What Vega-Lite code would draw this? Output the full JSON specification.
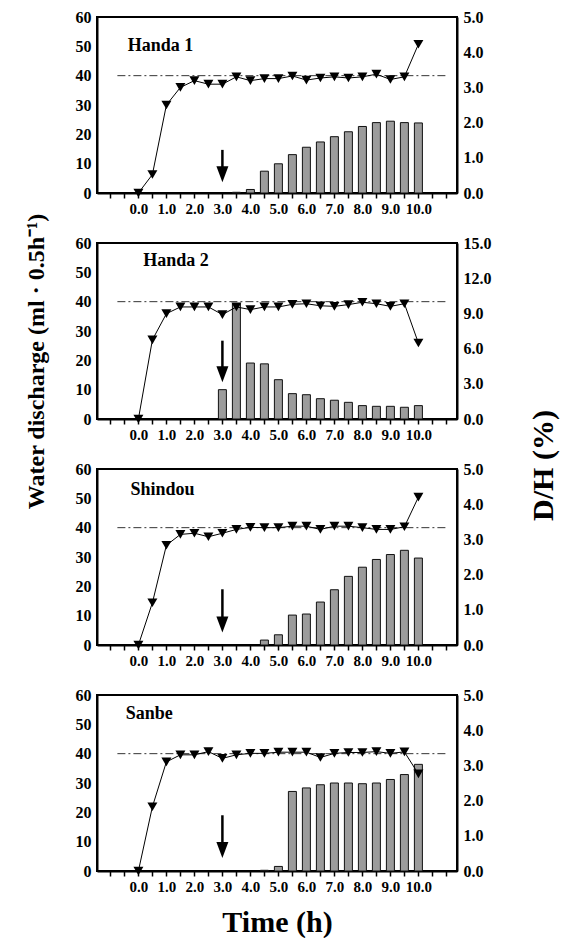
{
  "$schema": "https://vega.github.io/schema/vega-lite/v6.json",
  "padding": {"left": 22, "top": 8, "right": 5, "bottom": 0},
  "background": "white",
  "datasets": {
    "d": [
      {"site": "Handa 1", "t": 0, "q": 0},
      {"site": "Handa 1", "t": 0.5, "q": 6.3},
      {"site": "Handa 1", "t": 1, "q": 30},
      {"site": "Handa 1", "t": 1.5, "q": 36},
      {"site": "Handa 1", "t": 2, "q": 38.3},
      {"site": "Handa 1", "t": 2.5, "q": 37.1},
      {"site": "Handa 1", "t": 3, "q": 37.1},
      {"site": "Handa 1", "t": 3.5, "q": 39.6, "dh": 0.02},
      {"site": "Handa 1", "t": 4, "q": 38.3, "dh": 0.1},
      {"site": "Handa 1", "t": 4.5, "q": 39, "dh": 0.62},
      {"site": "Handa 1", "t": 5, "q": 39, "dh": 0.83},
      {"site": "Handa 1", "t": 5.5, "q": 39.9, "dh": 1.09},
      {"site": "Handa 1", "t": 6, "q": 38.5, "dh": 1.3},
      {"site": "Handa 1", "t": 6.5, "q": 39.2, "dh": 1.45},
      {"site": "Handa 1", "t": 7, "q": 39.6, "dh": 1.6},
      {"site": "Handa 1", "t": 7.5, "q": 39.2, "dh": 1.74},
      {"site": "Handa 1", "t": 8, "q": 39.6, "dh": 1.89},
      {"site": "Handa 1", "t": 8.5, "q": 40.5, "dh": 2.0},
      {"site": "Handa 1", "t": 9, "q": 38.7, "dh": 2.04},
      {"site": "Handa 1", "t": 9.5, "q": 39.6, "dh": 2.0},
      {"site": "Handa 1", "t": 10, "q": 50.7, "dh": 1.99},
      {"site": "Handa 2", "t": 0, "q": 0},
      {"site": "Handa 2", "t": 0.5, "q": 27},
      {"site": "Handa 2", "t": 1, "q": 35.9},
      {"site": "Handa 2", "t": 1.5, "q": 38.2},
      {"site": "Handa 2", "t": 2, "q": 38.2},
      {"site": "Handa 2", "t": 2.5, "q": 38.2},
      {"site": "Handa 2", "t": 3, "q": 35.6, "dh": 2.5},
      {"site": "Handa 2", "t": 3.5, "q": 38.2, "dh": 9.83},
      {"site": "Handa 2", "t": 4, "q": 37.3, "dh": 4.77},
      {"site": "Handa 2", "t": 4.5, "q": 38.2, "dh": 4.7},
      {"site": "Handa 2", "t": 5, "q": 38.2, "dh": 3.35},
      {"site": "Handa 2", "t": 5.5, "q": 39.1, "dh": 2.16},
      {"site": "Handa 2", "t": 6, "q": 39.3, "dh": 2.07},
      {"site": "Handa 2", "t": 6.5, "q": 38.6, "dh": 1.73},
      {"site": "Handa 2", "t": 7, "q": 38.4, "dh": 1.6},
      {"site": "Handa 2", "t": 7.5, "q": 39, "dh": 1.42},
      {"site": "Handa 2", "t": 8, "q": 39.8, "dh": 1.14},
      {"site": "Handa 2", "t": 8.5, "q": 39.3, "dh": 1.08},
      {"site": "Handa 2", "t": 9, "q": 38.4, "dh": 1.08},
      {"site": "Handa 2", "t": 9.5, "q": 39.3, "dh": 1.0},
      {"site": "Handa 2", "t": 10, "q": 25.9, "dh": 1.14},
      {"site": "Shindou", "t": 0, "q": 0},
      {"site": "Shindou", "t": 0.5, "q": 14.4},
      {"site": "Shindou", "t": 1, "q": 34},
      {"site": "Shindou", "t": 1.5, "q": 37.7},
      {"site": "Shindou", "t": 2, "q": 38.1},
      {"site": "Shindou", "t": 2.5, "q": 36.9},
      {"site": "Shindou", "t": 3, "q": 38.1},
      {"site": "Shindou", "t": 3.5, "q": 39.4},
      {"site": "Shindou", "t": 4, "q": 40.1},
      {"site": "Shindou", "t": 4.5, "q": 40, "dh": 0.14},
      {"site": "Shindou", "t": 5, "q": 40, "dh": 0.29},
      {"site": "Shindou", "t": 5.5, "q": 40.5, "dh": 0.85},
      {"site": "Shindou", "t": 6, "q": 40.5, "dh": 0.88},
      {"site": "Shindou", "t": 6.5, "q": 39.4, "dh": 1.22},
      {"site": "Shindou", "t": 7, "q": 40.5, "dh": 1.57},
      {"site": "Shindou", "t": 7.5, "q": 40.5, "dh": 1.95},
      {"site": "Shindou", "t": 8, "q": 40, "dh": 2.21},
      {"site": "Shindou", "t": 8.5, "q": 39.4, "dh": 2.43},
      {"site": "Shindou", "t": 9, "q": 39.4, "dh": 2.57},
      {"site": "Shindou", "t": 9.5, "q": 40.3, "dh": 2.69},
      {"site": "Shindou", "t": 10, "q": 50.4, "dh": 2.47},
      {"site": "Sanbe", "t": 0, "q": 0},
      {"site": "Sanbe", "t": 0.5, "q": 21.9},
      {"site": "Sanbe", "t": 1, "q": 37.2},
      {"site": "Sanbe", "t": 1.5, "q": 39.6},
      {"site": "Sanbe", "t": 2, "q": 39.6},
      {"site": "Sanbe", "t": 2.5, "q": 40.7},
      {"site": "Sanbe", "t": 3, "q": 38.4},
      {"site": "Sanbe", "t": 3.5, "q": 39.6},
      {"site": "Sanbe", "t": 4, "q": 40.1},
      {"site": "Sanbe", "t": 4.5, "q": 40.1, "dh": 0.02},
      {"site": "Sanbe", "t": 5, "q": 40.5, "dh": 0.13},
      {"site": "Sanbe", "t": 5.5, "q": 40.5, "dh": 2.26},
      {"site": "Sanbe", "t": 6, "q": 40.5, "dh": 2.36},
      {"site": "Sanbe", "t": 6.5, "q": 38.7, "dh": 2.45},
      {"site": "Sanbe", "t": 7, "q": 40.1, "dh": 2.5},
      {"site": "Sanbe", "t": 7.5, "q": 40.4, "dh": 2.5},
      {"site": "Sanbe", "t": 8, "q": 40.4, "dh": 2.48},
      {"site": "Sanbe", "t": 8.5, "q": 40.7, "dh": 2.5},
      {"site": "Sanbe", "t": 9, "q": 40.1, "dh": 2.6},
      {"site": "Sanbe", "t": 9.5, "q": 40.6, "dh": 2.74},
      {"site": "Sanbe", "t": 10, "q": 33.1, "dh": 3.03}
    ]
  },
  "data": {"name": "d"},
  "bounds": "flush",
  "spacing": 50,
  "vconcat": [
    {
      "width": 360, "height": 176,
      "layer": [
        {"transform": [{"filter": "datum.site === 'Handa 1' && isValid(datum.dh)"}],
         "mark": {"type": "bar", "width": 8, "fill": "#9c9c9c", "stroke": "#111", "strokeWidth": 1},
         "encoding": {
           "x": {"field": "t", "type": "quantitative", "scale": {"domain": [-1.3, 11.2], "nice": false, "zero": false}, "axis": {"values": [-1,-0.5,0,0.5,1,1.5,2,2.5,3,3.5,4,4.5,5,5.5,6,6.5,7,7.5,8,8.5,9,9.5,10,10.5,11], "labelExpr": "datum.value >= 0 && datum.value <= 10 && datum.value % 1 === 0 ? format(datum.value, '.1f') : ''", "title": null, "labelOverlap": false, "labelFlush": false}},
           "y": {"field": "dh", "type": "quantitative", "scale": {"domain": [0, 5], "nice": false}, "axis": {"orient": "right", "values": [0,1,2,3,4,5], "format": ".1f", "title": null}}}},
        {"layer": [
          {"data": {"values": [{}]}, "mark": {"type": "rule", "strokeDash": [8, 3, 2, 3], "strokeWidth": 1, "color": "#333"},
           "encoding": {
             "x": {"datum": -0.75, "type": "quantitative", "scale": {"domain": [-1.3, 11.2], "nice": false, "zero": false}, "axis": {"values": [-1,-0.5,0,0.5,1,1.5,2,2.5,3,3.5,4,4.5,5,5.5,6,6.5,7,7.5,8,8.5,9,9.5,10,10.5,11], "labelExpr": "datum.value >= 0 && datum.value <= 10 && datum.value % 1 === 0 ? format(datum.value, '.1f') : ''", "title": null, "labelOverlap": false, "labelFlush": false}},
             "x2": {"datum": 11},
             "y": {"datum": 40, "type": "quantitative", "scale": {"domain": [0, 60], "nice": false}, "axis": {"orient": "left", "values": [0,10,20,30,40,50,60], "format": "d", "title": null}}}},
          {"transform": [{"filter": "datum.site === 'Handa 1'"}], "mark": {"type": "line", "color": "black", "strokeWidth": 1},
           "encoding": {
             "x": {"field": "t", "type": "quantitative", "scale": {"domain": [-1.3, 11.2], "nice": false, "zero": false}, "axis": {"values": [-1,-0.5,0,0.5,1,1.5,2,2.5,3,3.5,4,4.5,5,5.5,6,6.5,7,7.5,8,8.5,9,9.5,10,10.5,11], "labelExpr": "datum.value >= 0 && datum.value <= 10 && datum.value % 1 === 0 ? format(datum.value, '.1f') : ''", "title": null, "labelOverlap": false, "labelFlush": false}},
             "y": {"field": "q", "type": "quantitative", "scale": {"domain": [0, 60], "nice": false}, "axis": {"orient": "left", "values": [0,10,20,30,40,50,60], "format": "d", "title": null}}}},
          {"transform": [{"filter": "datum.site === 'Handa 1'"}], "mark": {"type": "point", "shape": "triangle-down", "filled": true, "color": "black", "size": 100, "opacity": 1},
           "encoding": {
             "x": {"field": "t", "type": "quantitative", "scale": {"domain": [-1.3, 11.2], "nice": false, "zero": false}, "axis": {"values": [-1,-0.5,0,0.5,1,1.5,2,2.5,3,3.5,4,4.5,5,5.5,6,6.5,7,7.5,8,8.5,9,9.5,10,10.5,11], "labelExpr": "datum.value >= 0 && datum.value <= 10 && datum.value % 1 === 0 ? format(datum.value, '.1f') : ''", "title": null, "labelOverlap": false, "labelFlush": false}},
             "y": {"field": "q", "type": "quantitative", "scale": {"domain": [0, 60], "nice": false}, "axis": {"orient": "left", "values": [0,10,20,30,40,50,60], "format": "d", "title": null}}}},
          {"data": {"values": [{}]}, "mark": {"type": "rule", "color": "black", "strokeWidth": 2.5},
           "encoding": {
             "x": {"datum": 3, "type": "quantitative", "scale": {"domain": [-1.3, 11.2], "nice": false, "zero": false}, "axis": {"values": [-1,-0.5,0,0.5,1,1.5,2,2.5,3,3.5,4,4.5,5,5.5,6,6.5,7,7.5,8,8.5,9,9.5,10,10.5,11], "labelExpr": "datum.value >= 0 && datum.value <= 10 && datum.value % 1 === 0 ? format(datum.value, '.1f') : ''", "title": null, "labelOverlap": false, "labelFlush": false}},
             "y": {"datum": 14.7, "type": "quantitative", "scale": {"domain": [0, 60], "nice": false}, "axis": {"orient": "left", "values": [0,10,20,30,40,50,60], "format": "d", "title": null}},
             "y2": {"datum": 7}}},
          {"data": {"values": [{}]}, "mark": {"type": "point", "shape": "M-0.75,-2L0.75,-2L0,0Z", "filled": true, "color": "black", "size": 256, "opacity": 1},
           "encoding": {
             "x": {"datum": 3, "type": "quantitative", "scale": {"domain": [-1.3, 11.2], "nice": false, "zero": false}, "axis": {"values": [-1,-0.5,0,0.5,1,1.5,2,2.5,3,3.5,4,4.5,5,5.5,6,6.5,7,7.5,8,8.5,9,9.5,10,10.5,11], "labelExpr": "datum.value >= 0 && datum.value <= 10 && datum.value % 1 === 0 ? format(datum.value, '.1f') : ''", "title": null, "labelOverlap": false, "labelFlush": false}},
             "y": {"datum": 3.7, "type": "quantitative", "scale": {"domain": [0, 60], "nice": false}, "axis": {"orient": "left", "values": [0,10,20,30,40,50,60], "format": "d", "title": null}}}},
          {"data": {"values": [{}]}, "mark": {"type": "text", "text": "Handa 1", "align": "left", "baseline": "alphabetic", "font": "Liberation Serif", "fontWeight": "bold", "fontSize": 18, "color": "black"},
           "encoding": {
             "x": {"datum": -0.38, "type": "quantitative", "scale": {"domain": [-1.3, 11.2], "nice": false, "zero": false}, "axis": {"values": [-1,-0.5,0,0.5,1,1.5,2,2.5,3,3.5,4,4.5,5,5.5,6,6.5,7,7.5,8,8.5,9,9.5,10,10.5,11], "labelExpr": "datum.value >= 0 && datum.value <= 10 && datum.value % 1 === 0 ? format(datum.value, '.1f') : ''", "title": null, "labelOverlap": false, "labelFlush": false}},
             "y": {"datum": 48.4, "type": "quantitative", "scale": {"domain": [0, 60], "nice": false}, "axis": {"orient": "left", "values": [0,10,20,30,40,50,60], "format": "d", "title": null}}}}
        ]}
      ],
      "resolve": {"scale": {"y": "independent"}}
    },
    {
      "width": 360, "height": 176,
      "layer": [
        {"transform": [{"filter": "datum.site === 'Handa 2' && isValid(datum.dh)"}],
         "mark": {"type": "bar", "width": 8, "fill": "#9c9c9c", "stroke": "#111", "strokeWidth": 1},
         "encoding": {
           "x": {"field": "t", "type": "quantitative", "scale": {"domain": [-1.3, 11.2], "nice": false, "zero": false}, "axis": {"values": [-1,-0.5,0,0.5,1,1.5,2,2.5,3,3.5,4,4.5,5,5.5,6,6.5,7,7.5,8,8.5,9,9.5,10,10.5,11], "labelExpr": "datum.value >= 0 && datum.value <= 10 && datum.value % 1 === 0 ? format(datum.value, '.1f') : ''", "title": null, "labelOverlap": false, "labelFlush": false}},
           "y": {"field": "dh", "type": "quantitative", "scale": {"domain": [0, 15], "nice": false}, "axis": {"orient": "right", "values": [0,3,6,9,12,15], "format": ".1f", "title": null}}}},
        {"layer": [
          {"data": {"values": [{}]}, "mark": {"type": "rule", "strokeDash": [8, 3, 2, 3], "strokeWidth": 1, "color": "#333"},
           "encoding": {
             "x": {"datum": -0.75, "type": "quantitative", "scale": {"domain": [-1.3, 11.2], "nice": false, "zero": false}, "axis": {"values": [-1,-0.5,0,0.5,1,1.5,2,2.5,3,3.5,4,4.5,5,5.5,6,6.5,7,7.5,8,8.5,9,9.5,10,10.5,11], "labelExpr": "datum.value >= 0 && datum.value <= 10 && datum.value % 1 === 0 ? format(datum.value, '.1f') : ''", "title": null, "labelOverlap": false, "labelFlush": false}},
             "x2": {"datum": 11},
             "y": {"datum": 40, "type": "quantitative", "scale": {"domain": [0, 60], "nice": false}, "axis": {"orient": "left", "values": [0,10,20,30,40,50,60], "format": "d", "title": "Water discharge     (ml   ·   0.5h⁻¹)", "titleFontSize": 24, "titlePadding": 27, "titleY": 118}}}},
          {"transform": [{"filter": "datum.site === 'Handa 2'"}], "mark": {"type": "line", "color": "black", "strokeWidth": 1},
           "encoding": {
             "x": {"field": "t", "type": "quantitative", "scale": {"domain": [-1.3, 11.2], "nice": false, "zero": false}, "axis": {"values": [-1,-0.5,0,0.5,1,1.5,2,2.5,3,3.5,4,4.5,5,5.5,6,6.5,7,7.5,8,8.5,9,9.5,10,10.5,11], "labelExpr": "datum.value >= 0 && datum.value <= 10 && datum.value % 1 === 0 ? format(datum.value, '.1f') : ''", "title": null, "labelOverlap": false, "labelFlush": false}},
             "y": {"field": "q", "type": "quantitative", "scale": {"domain": [0, 60], "nice": false}, "axis": {"orient": "left", "values": [0,10,20,30,40,50,60], "format": "d", "title": "Water discharge     (ml   ·   0.5h⁻¹)", "titleFontSize": 24, "titlePadding": 27, "titleY": 118}}}},
          {"transform": [{"filter": "datum.site === 'Handa 2'"}], "mark": {"type": "point", "shape": "triangle-down", "filled": true, "color": "black", "size": 100, "opacity": 1},
           "encoding": {
             "x": {"field": "t", "type": "quantitative", "scale": {"domain": [-1.3, 11.2], "nice": false, "zero": false}, "axis": {"values": [-1,-0.5,0,0.5,1,1.5,2,2.5,3,3.5,4,4.5,5,5.5,6,6.5,7,7.5,8,8.5,9,9.5,10,10.5,11], "labelExpr": "datum.value >= 0 && datum.value <= 10 && datum.value % 1 === 0 ? format(datum.value, '.1f') : ''", "title": null, "labelOverlap": false, "labelFlush": false}},
             "y": {"field": "q", "type": "quantitative", "scale": {"domain": [0, 60], "nice": false}, "axis": {"orient": "left", "values": [0,10,20,30,40,50,60], "format": "d", "title": "Water discharge     (ml   ·   0.5h⁻¹)", "titleFontSize": 24, "titlePadding": 27, "titleY": 118}}}},
          {"data": {"values": [{}]}, "mark": {"type": "rule", "color": "black", "strokeWidth": 2.5},
           "encoding": {
             "x": {"datum": 3, "type": "quantitative", "scale": {"domain": [-1.3, 11.2], "nice": false, "zero": false}, "axis": {"values": [-1,-0.5,0,0.5,1,1.5,2,2.5,3,3.5,4,4.5,5,5.5,6,6.5,7,7.5,8,8.5,9,9.5,10,10.5,11], "labelExpr": "datum.value >= 0 && datum.value <= 10 && datum.value % 1 === 0 ? format(datum.value, '.1f') : ''", "title": null, "labelOverlap": false, "labelFlush": false}},
             "y": {"datum": 26.7, "type": "quantitative", "scale": {"domain": [0, 60], "nice": false}, "axis": {"orient": "left", "values": [0,10,20,30,40,50,60], "format": "d", "title": "Water discharge     (ml   ·   0.5h⁻¹)", "titleFontSize": 24, "titlePadding": 27, "titleY": 118}},
             "y2": {"datum": 16}}},
          {"data": {"values": [{}]}, "mark": {"type": "point", "shape": "M-0.75,-2L0.75,-2L0,0Z", "filled": true, "color": "black", "size": 256, "opacity": 1},
           "encoding": {
             "x": {"datum": 3, "type": "quantitative", "scale": {"domain": [-1.3, 11.2], "nice": false, "zero": false}, "axis": {"values": [-1,-0.5,0,0.5,1,1.5,2,2.5,3,3.5,4,4.5,5,5.5,6,6.5,7,7.5,8,8.5,9,9.5,10,10.5,11], "labelExpr": "datum.value >= 0 && datum.value <= 10 && datum.value % 1 === 0 ? format(datum.value, '.1f') : ''", "title": null, "labelOverlap": false, "labelFlush": false}},
             "y": {"datum": 12.5, "type": "quantitative", "scale": {"domain": [0, 60], "nice": false}, "axis": {"orient": "left", "values": [0,10,20,30,40,50,60], "format": "d", "title": "Water discharge     (ml   ·   0.5h⁻¹)", "titleFontSize": 24, "titlePadding": 27, "titleY": 118}}}},
          {"data": {"values": [{}]}, "mark": {"type": "text", "text": "Handa 2", "align": "left", "baseline": "alphabetic", "font": "Liberation Serif", "fontWeight": "bold", "fontSize": 18, "color": "black"},
           "encoding": {
             "x": {"datum": 0.17, "type": "quantitative", "scale": {"domain": [-1.3, 11.2], "nice": false, "zero": false}, "axis": {"values": [-1,-0.5,0,0.5,1,1.5,2,2.5,3,3.5,4,4.5,5,5.5,6,6.5,7,7.5,8,8.5,9,9.5,10,10.5,11], "labelExpr": "datum.value >= 0 && datum.value <= 10 && datum.value % 1 === 0 ? format(datum.value, '.1f') : ''", "title": null, "labelOverlap": false, "labelFlush": false}},
             "y": {"datum": 52.2, "type": "quantitative", "scale": {"domain": [0, 60], "nice": false}, "axis": {"orient": "left", "values": [0,10,20,30,40,50,60], "format": "d", "title": "Water discharge     (ml   ·   0.5h⁻¹)", "titleFontSize": 24, "titlePadding": 27, "titleY": 118}}}}
        ]}
      ],
      "resolve": {"scale": {"y": "independent"}}
    },
    {
      "width": 360, "height": 176,
      "layer": [
        {"transform": [{"filter": "datum.site === 'Shindou' && isValid(datum.dh)"}],
         "mark": {"type": "bar", "width": 8, "fill": "#9c9c9c", "stroke": "#111", "strokeWidth": 1},
         "encoding": {
           "x": {"field": "t", "type": "quantitative", "scale": {"domain": [-1.3, 11.2], "nice": false, "zero": false}, "axis": {"values": [-1,-0.5,0,0.5,1,1.5,2,2.5,3,3.5,4,4.5,5,5.5,6,6.5,7,7.5,8,8.5,9,9.5,10,10.5,11], "labelExpr": "datum.value >= 0 && datum.value <= 10 && datum.value % 1 === 0 ? format(datum.value, '.1f') : ''", "title": null, "labelOverlap": false, "labelFlush": false}},
           "y": {"field": "dh", "type": "quantitative", "scale": {"domain": [0, 5], "nice": false}, "axis": {"orient": "right", "values": [0,1,2,3,4,5], "format": ".1f", "title": "D/H (%)", "titleFontSize": 30, "titleAngle": 270, "titleBaseline": "top", "titlePadding": 45, "titleY": -4}}}},
        {"layer": [
          {"data": {"values": [{}]}, "mark": {"type": "rule", "strokeDash": [8, 3, 2, 3], "strokeWidth": 1, "color": "#333"},
           "encoding": {
             "x": {"datum": -0.75, "type": "quantitative", "scale": {"domain": [-1.3, 11.2], "nice": false, "zero": false}, "axis": {"values": [-1,-0.5,0,0.5,1,1.5,2,2.5,3,3.5,4,4.5,5,5.5,6,6.5,7,7.5,8,8.5,9,9.5,10,10.5,11], "labelExpr": "datum.value >= 0 && datum.value <= 10 && datum.value % 1 === 0 ? format(datum.value, '.1f') : ''", "title": null, "labelOverlap": false, "labelFlush": false}},
             "x2": {"datum": 11},
             "y": {"datum": 40, "type": "quantitative", "scale": {"domain": [0, 60], "nice": false}, "axis": {"orient": "left", "values": [0,10,20,30,40,50,60], "format": "d", "title": null}}}},
          {"transform": [{"filter": "datum.site === 'Shindou'"}], "mark": {"type": "line", "color": "black", "strokeWidth": 1},
           "encoding": {
             "x": {"field": "t", "type": "quantitative", "scale": {"domain": [-1.3, 11.2], "nice": false, "zero": false}, "axis": {"values": [-1,-0.5,0,0.5,1,1.5,2,2.5,3,3.5,4,4.5,5,5.5,6,6.5,7,7.5,8,8.5,9,9.5,10,10.5,11], "labelExpr": "datum.value >= 0 && datum.value <= 10 && datum.value % 1 === 0 ? format(datum.value, '.1f') : ''", "title": null, "labelOverlap": false, "labelFlush": false}},
             "y": {"field": "q", "type": "quantitative", "scale": {"domain": [0, 60], "nice": false}, "axis": {"orient": "left", "values": [0,10,20,30,40,50,60], "format": "d", "title": null}}}},
          {"transform": [{"filter": "datum.site === 'Shindou'"}], "mark": {"type": "point", "shape": "triangle-down", "filled": true, "color": "black", "size": 100, "opacity": 1},
           "encoding": {
             "x": {"field": "t", "type": "quantitative", "scale": {"domain": [-1.3, 11.2], "nice": false, "zero": false}, "axis": {"values": [-1,-0.5,0,0.5,1,1.5,2,2.5,3,3.5,4,4.5,5,5.5,6,6.5,7,7.5,8,8.5,9,9.5,10,10.5,11], "labelExpr": "datum.value >= 0 && datum.value <= 10 && datum.value % 1 === 0 ? format(datum.value, '.1f') : ''", "title": null, "labelOverlap": false, "labelFlush": false}},
             "y": {"field": "q", "type": "quantitative", "scale": {"domain": [0, 60], "nice": false}, "axis": {"orient": "left", "values": [0,10,20,30,40,50,60], "format": "d", "title": null}}}},
          {"data": {"values": [{}]}, "mark": {"type": "rule", "color": "black", "strokeWidth": 2.5},
           "encoding": {
             "x": {"datum": 3, "type": "quantitative", "scale": {"domain": [-1.3, 11.2], "nice": false, "zero": false}, "axis": {"values": [-1,-0.5,0,0.5,1,1.5,2,2.5,3,3.5,4,4.5,5,5.5,6,6.5,7,7.5,8,8.5,9,9.5,10,10.5,11], "labelExpr": "datum.value >= 0 && datum.value <= 10 && datum.value % 1 === 0 ? format(datum.value, '.1f') : ''", "title": null, "labelOverlap": false, "labelFlush": false}},
             "y": {"datum": 19, "type": "quantitative", "scale": {"domain": [0, 60], "nice": false}, "axis": {"orient": "left", "values": [0,10,20,30,40,50,60], "format": "d", "title": null}},
             "y2": {"datum": 8}}},
          {"data": {"values": [{}]}, "mark": {"type": "point", "shape": "M-0.75,-2L0.75,-2L0,0Z", "filled": true, "color": "black", "size": 256, "opacity": 1},
           "encoding": {
             "x": {"datum": 3, "type": "quantitative", "scale": {"domain": [-1.3, 11.2], "nice": false, "zero": false}, "axis": {"values": [-1,-0.5,0,0.5,1,1.5,2,2.5,3,3.5,4,4.5,5,5.5,6,6.5,7,7.5,8,8.5,9,9.5,10,10.5,11], "labelExpr": "datum.value >= 0 && datum.value <= 10 && datum.value % 1 === 0 ? format(datum.value, '.1f') : ''", "title": null, "labelOverlap": false, "labelFlush": false}},
             "y": {"datum": 4.3, "type": "quantitative", "scale": {"domain": [0, 60], "nice": false}, "axis": {"orient": "left", "values": [0,10,20,30,40,50,60], "format": "d", "title": null}}}},
          {"data": {"values": [{}]}, "mark": {"type": "text", "text": "Shindou", "align": "left", "baseline": "alphabetic", "font": "Liberation Serif", "fontWeight": "bold", "fontSize": 18, "color": "black"},
           "encoding": {
             "x": {"datum": -0.28, "type": "quantitative", "scale": {"domain": [-1.3, 11.2], "nice": false, "zero": false}, "axis": {"values": [-1,-0.5,0,0.5,1,1.5,2,2.5,3,3.5,4,4.5,5,5.5,6,6.5,7,7.5,8,8.5,9,9.5,10,10.5,11], "labelExpr": "datum.value >= 0 && datum.value <= 10 && datum.value % 1 === 0 ? format(datum.value, '.1f') : ''", "title": null, "labelOverlap": false, "labelFlush": false}},
             "y": {"datum": 51.1, "type": "quantitative", "scale": {"domain": [0, 60], "nice": false}, "axis": {"orient": "left", "values": [0,10,20,30,40,50,60], "format": "d", "title": null}}}}
        ]}
      ],
      "resolve": {"scale": {"y": "independent"}}
    },
    {
      "width": 360, "height": 176,
      "layer": [
        {"transform": [{"filter": "datum.site === 'Sanbe' && isValid(datum.dh)"}],
         "mark": {"type": "bar", "width": 8, "fill": "#9c9c9c", "stroke": "#111", "strokeWidth": 1},
         "encoding": {
           "x": {"field": "t", "type": "quantitative", "scale": {"domain": [-1.3, 11.2], "nice": false, "zero": false}, "axis": {"values": [-1,-0.5,0,0.5,1,1.5,2,2.5,3,3.5,4,4.5,5,5.5,6,6.5,7,7.5,8,8.5,9,9.5,10,10.5,11], "labelExpr": "datum.value >= 0 && datum.value <= 10 && datum.value % 1 === 0 ? format(datum.value, '.1f') : ''", "title": "Time (h)", "titleFontSize": 30, "titlePadding": 13, "labelOverlap": false, "labelFlush": false}},
           "y": {"field": "dh", "type": "quantitative", "scale": {"domain": [0, 5], "nice": false}, "axis": {"orient": "right", "values": [0,1,2,3,4,5], "format": ".1f", "title": null}}}},
        {"layer": [
          {"data": {"values": [{}]}, "mark": {"type": "rule", "strokeDash": [8, 3, 2, 3], "strokeWidth": 1, "color": "#333"},
           "encoding": {
             "x": {"datum": -0.75, "type": "quantitative", "scale": {"domain": [-1.3, 11.2], "nice": false, "zero": false}, "axis": {"values": [-1,-0.5,0,0.5,1,1.5,2,2.5,3,3.5,4,4.5,5,5.5,6,6.5,7,7.5,8,8.5,9,9.5,10,10.5,11], "labelExpr": "datum.value >= 0 && datum.value <= 10 && datum.value % 1 === 0 ? format(datum.value, '.1f') : ''", "title": "Time (h)", "titleFontSize": 30, "titlePadding": 13, "labelOverlap": false, "labelFlush": false}},
             "x2": {"datum": 11},
             "y": {"datum": 40, "type": "quantitative", "scale": {"domain": [0, 60], "nice": false}, "axis": {"orient": "left", "values": [0,10,20,30,40,50,60], "format": "d", "title": null}}}},
          {"transform": [{"filter": "datum.site === 'Sanbe'"}], "mark": {"type": "line", "color": "black", "strokeWidth": 1},
           "encoding": {
             "x": {"field": "t", "type": "quantitative", "scale": {"domain": [-1.3, 11.2], "nice": false, "zero": false}, "axis": {"values": [-1,-0.5,0,0.5,1,1.5,2,2.5,3,3.5,4,4.5,5,5.5,6,6.5,7,7.5,8,8.5,9,9.5,10,10.5,11], "labelExpr": "datum.value >= 0 && datum.value <= 10 && datum.value % 1 === 0 ? format(datum.value, '.1f') : ''", "title": "Time (h)", "titleFontSize": 30, "titlePadding": 13, "labelOverlap": false, "labelFlush": false}},
             "y": {"field": "q", "type": "quantitative", "scale": {"domain": [0, 60], "nice": false}, "axis": {"orient": "left", "values": [0,10,20,30,40,50,60], "format": "d", "title": null}}}},
          {"transform": [{"filter": "datum.site === 'Sanbe'"}], "mark": {"type": "point", "shape": "triangle-down", "filled": true, "color": "black", "size": 100, "opacity": 1},
           "encoding": {
             "x": {"field": "t", "type": "quantitative", "scale": {"domain": [-1.3, 11.2], "nice": false, "zero": false}, "axis": {"values": [-1,-0.5,0,0.5,1,1.5,2,2.5,3,3.5,4,4.5,5,5.5,6,6.5,7,7.5,8,8.5,9,9.5,10,10.5,11], "labelExpr": "datum.value >= 0 && datum.value <= 10 && datum.value % 1 === 0 ? format(datum.value, '.1f') : ''", "title": "Time (h)", "titleFontSize": 30, "titlePadding": 13, "labelOverlap": false, "labelFlush": false}},
             "y": {"field": "q", "type": "quantitative", "scale": {"domain": [0, 60], "nice": false}, "axis": {"orient": "left", "values": [0,10,20,30,40,50,60], "format": "d", "title": null}}}},
          {"data": {"values": [{}]}, "mark": {"type": "rule", "color": "black", "strokeWidth": 2.5},
           "encoding": {
             "x": {"datum": 3, "type": "quantitative", "scale": {"domain": [-1.3, 11.2], "nice": false, "zero": false}, "axis": {"values": [-1,-0.5,0,0.5,1,1.5,2,2.5,3,3.5,4,4.5,5,5.5,6,6.5,7,7.5,8,8.5,9,9.5,10,10.5,11], "labelExpr": "datum.value >= 0 && datum.value <= 10 && datum.value % 1 === 0 ? format(datum.value, '.1f') : ''", "title": "Time (h)", "titleFontSize": 30, "titlePadding": 13, "labelOverlap": false, "labelFlush": false}},
             "y": {"datum": 19, "type": "quantitative", "scale": {"domain": [0, 60], "nice": false}, "axis": {"orient": "left", "values": [0,10,20,30,40,50,60], "format": "d", "title": null}},
             "y2": {"datum": 8}}},
          {"data": {"values": [{}]}, "mark": {"type": "point", "shape": "M-0.75,-2L0.75,-2L0,0Z", "filled": true, "color": "black", "size": 256, "opacity": 1},
           "encoding": {
             "x": {"datum": 3, "type": "quantitative", "scale": {"domain": [-1.3, 11.2], "nice": false, "zero": false}, "axis": {"values": [-1,-0.5,0,0.5,1,1.5,2,2.5,3,3.5,4,4.5,5,5.5,6,6.5,7,7.5,8,8.5,9,9.5,10,10.5,11], "labelExpr": "datum.value >= 0 && datum.value <= 10 && datum.value % 1 === 0 ? format(datum.value, '.1f') : ''", "title": "Time (h)", "titleFontSize": 30, "titlePadding": 13, "labelOverlap": false, "labelFlush": false}},
             "y": {"datum": 4.4, "type": "quantitative", "scale": {"domain": [0, 60], "nice": false}, "axis": {"orient": "left", "values": [0,10,20,30,40,50,60], "format": "d", "title": null}}}},
          {"data": {"values": [{}]}, "mark": {"type": "text", "text": "Sanbe", "align": "left", "baseline": "alphabetic", "font": "Liberation Serif", "fontWeight": "bold", "fontSize": 18, "color": "black"},
           "encoding": {
             "x": {"datum": -0.45, "type": "quantitative", "scale": {"domain": [-1.3, 11.2], "nice": false, "zero": false}, "axis": {"values": [-1,-0.5,0,0.5,1,1.5,2,2.5,3,3.5,4,4.5,5,5.5,6,6.5,7,7.5,8,8.5,9,9.5,10,10.5,11], "labelExpr": "datum.value >= 0 && datum.value <= 10 && datum.value % 1 === 0 ? format(datum.value, '.1f') : ''", "title": "Time (h)", "titleFontSize": 30, "titlePadding": 13, "labelOverlap": false, "labelFlush": false}},
             "y": {"datum": 51.8, "type": "quantitative", "scale": {"domain": [0, 60], "nice": false}, "axis": {"orient": "left", "values": [0,10,20,30,40,50,60], "format": "d", "title": null}}}}
        ]}
      ],
      "resolve": {"scale": {"y": "independent"}}
    }
  ],
  "config": {
    "font": "Liberation Serif",
    "view": {"stroke": "black", "strokeWidth": 2},
    "axis": {"labelFont": "Liberation Serif", "labelFontWeight": "bold", "labelColor": "black", "domainColor": "black", "domainWidth": 2, "tickColor": "black", "grid": false, "titleFont": "Liberation Serif", "titleFontWeight": "bold", "titleColor": "black"},
    "axisX": {"labelFontSize": 15, "tickSize": 5, "tickWidth": 1.5, "labelPadding": 3},
    "axisY": {"labelFontSize": 16, "ticks": false, "labelPadding": 6}
  }
}
